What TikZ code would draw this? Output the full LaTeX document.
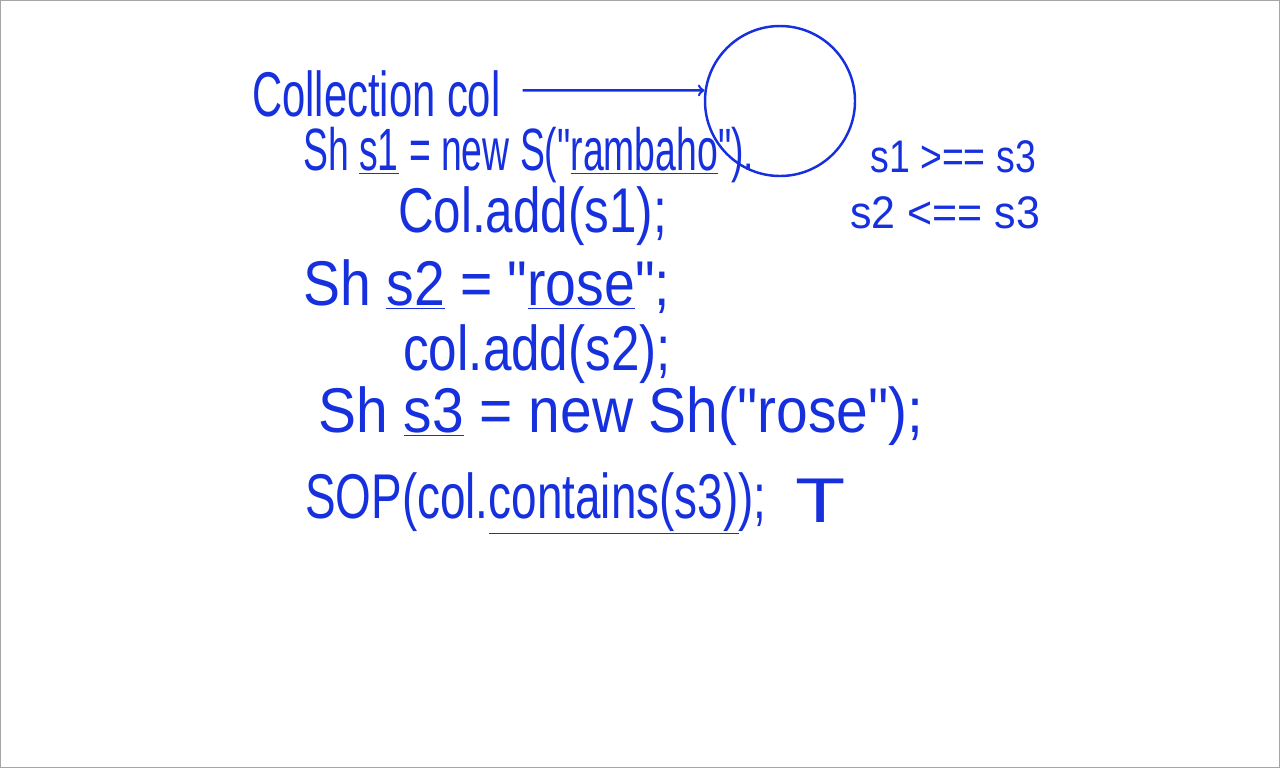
\documentclass[tikz,border=0pt]{standalone}
\usepackage{fontspec}
\setmainfont{Liberation Sans}[Ligatures=TeXOff]
\usetikzlibrary{calc}
\definecolor{ink}{RGB}{22,48,222}

\begin{document}
\begin{tikzpicture}[x=0.02cm,y=-0.02cm,
  hand/.style={font=\fontsize{36}{40}\selectfont,text=ink,inner sep=0pt,anchor=base west,transform shape},
  side/.style={hand,font=\fontsize{26}{30}\selectfont},
  pen/.style={draw=ink,line width=1.4pt}]
\useasboundingbox (0,0) rectangle (1280,768);
\draw[gray!70,line width=0.6pt] (0.5,0.5) rectangle (1279.5,767.5);
% the collection and its reference
\node[hand,xscale=0.66] (decl) at (252,116) {Collection col};
\node[pen,circle,minimum size=150*0.02cm,inner sep=0pt] (coll) at (780,101) {};
\draw[pen,->] ($(decl.east)+(22,-3)$) -- (coll.172);
% statements
\node[hand,font=\fontsize{34}{38}\selectfont,xscale=0.625] (ln1) at (303,170) {Sh \underline{s1} = new S("\underline{rambaho}").};
\node[hand,xscale=0.78] (ln2) at (398,232) {Col.add(s1);};
\node[hand,xscale=0.875] (ln3) at (303,305) {Sh \underline{s2} = "\underline{rose}";};
\node[hand,xscale=0.81] (ln4) at (403,370) {col.add(s2);};
\node[hand,xscale=0.9] (ln5) at (318,432) {Sh \underline{s3} = new Sh("rose");};
\node[hand,xscale=0.725] (ln6) at (305,518) {SOP(col.\underline{contains(s3)});};
\node[hand,xscale=1.3] (res) at (795,522) {T};
% comparisons on the side
\node[side,xscale=0.82] (cmp1) at (870,172) {s1 >== s3};
\node[side,xscale=0.94] (cmp2) at (850,228) {s2 <== s3};
\end{tikzpicture}
\end{document}
